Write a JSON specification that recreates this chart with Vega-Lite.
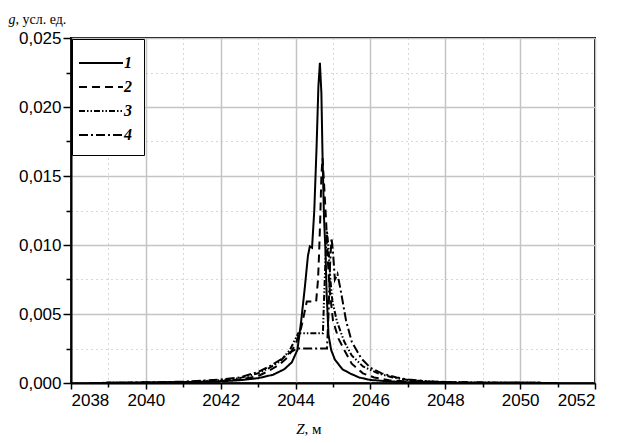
{
  "$schema": "https://vega.github.io/schema/vega-lite/v6.json",
  "autosize": {"type": "none"},
  "padding": {"left": 71, "top": 38, "right": 22, "bottom": 60},
  "width": 524,
  "height": 345,
  "background": "white",
  "config": {
    "view": {"stroke": "black", "strokeWidth": 2},
    "axis": {"labelFont": "Liberation Sans", "labelFontSize": 17, "labelColor": "black", "titleColor": "black"}
  },
  "datasets": {
    "curves": [
      {"z": 2038.5, "g": 0, "curve": "1"},
      {"z": 2039.5, "g": 0.00002, "curve": "1"},
      {"z": 2040.5, "g": 0.00004, "curve": "1"},
      {"z": 2041.5, "g": 0.00008, "curve": "1"},
      {"z": 2042, "g": 0.00012, "curve": "1"},
      {"z": 2042.5, "g": 0.0002, "curve": "1"},
      {"z": 2043, "g": 0.00035, "curve": "1"},
      {"z": 2043.4, "g": 0.0006, "curve": "1"},
      {"z": 2043.7, "g": 0.001, "curve": "1"},
      {"z": 2043.9, "g": 0.0015, "curve": "1"},
      {"z": 2044.05, "g": 0.0024, "curve": "1"},
      {"z": 2044.15, "g": 0.0045, "curve": "1"},
      {"z": 2044.25, "g": 0.007, "curve": "1"},
      {"z": 2044.33, "g": 0.0092, "curve": "1"},
      {"z": 2044.38, "g": 0.0099, "curve": "1"},
      {"z": 2044.44, "g": 0.0098, "curve": "1"},
      {"z": 2044.5, "g": 0.0125, "curve": "1"},
      {"z": 2044.56, "g": 0.017, "curve": "1"},
      {"z": 2044.61, "g": 0.0215, "curve": "1"},
      {"z": 2044.65, "g": 0.0232, "curve": "1"},
      {"z": 2044.69, "g": 0.021, "curve": "1"},
      {"z": 2044.72, "g": 0.0165, "curve": "1"},
      {"z": 2044.76, "g": 0.012, "curve": "1"},
      {"z": 2044.8, "g": 0.0095, "curve": "1"},
      {"z": 2044.83, "g": 0.0065, "curve": "1"},
      {"z": 2044.88, "g": 0.0035, "curve": "1"},
      {"z": 2044.95, "g": 0.0024, "curve": "1"},
      {"z": 2045.05, "g": 0.0017, "curve": "1"},
      {"z": 2045.25, "g": 0.001, "curve": "1"},
      {"z": 2045.45, "g": 0.0007, "curve": "1"},
      {"z": 2045.7, "g": 0.0004, "curve": "1"},
      {"z": 2046, "g": 0.00022, "curve": "1"},
      {"z": 2046.5, "g": 0.00012, "curve": "1"},
      {"z": 2047, "g": 0.00006, "curve": "1"},
      {"z": 2048, "g": 0.00003, "curve": "1"},
      {"z": 2049, "g": 0.00002, "curve": "1"},
      {"z": 2050.5, "g": 0.00001, "curve": "1"},
      {"z": 2051, "g": 0, "curve": "1"},

      {"z": 2038.5, "g": 0, "curve": "2"},
      {"z": 2040, "g": 0.00003, "curve": "2"},
      {"z": 2041, "g": 0.00006, "curve": "2"},
      {"z": 2042, "g": 0.00015, "curve": "2"},
      {"z": 2042.5, "g": 0.00025, "curve": "2"},
      {"z": 2043, "g": 0.0005, "curve": "2"},
      {"z": 2043.3, "g": 0.0009, "curve": "2"},
      {"z": 2043.6, "g": 0.0014, "curve": "2"},
      {"z": 2043.8, "g": 0.0019, "curve": "2"},
      {"z": 2044, "g": 0.0028, "curve": "2"},
      {"z": 2044.15, "g": 0.004, "curve": "2"},
      {"z": 2044.3, "g": 0.0059, "curve": "2"},
      {"z": 2044.55, "g": 0.0059, "curve": "2"},
      {"z": 2044.6, "g": 0.0075, "curve": "2"},
      {"z": 2044.63, "g": 0.0095, "curve": "2"},
      {"z": 2044.66, "g": 0.012, "curve": "2"},
      {"z": 2044.69, "g": 0.015, "curve": "2"},
      {"z": 2044.72, "g": 0.0163, "curve": "2"},
      {"z": 2044.76, "g": 0.0145, "curve": "2"},
      {"z": 2044.82, "g": 0.0115, "curve": "2"},
      {"z": 2044.87, "g": 0.0085, "curve": "2"},
      {"z": 2044.92, "g": 0.0065, "curve": "2"},
      {"z": 2045, "g": 0.0045, "curve": "2"},
      {"z": 2045.15, "g": 0.0032, "curve": "2"},
      {"z": 2045.3, "g": 0.0024, "curve": "2"},
      {"z": 2045.5, "g": 0.0014, "curve": "2"},
      {"z": 2045.8, "g": 0.0007, "curve": "2"},
      {"z": 2046.1, "g": 0.0004, "curve": "2"},
      {"z": 2046.5, "g": 0.0002, "curve": "2"},
      {"z": 2047, "g": 0.00012, "curve": "2"},
      {"z": 2048, "g": 0.00005, "curve": "2"},
      {"z": 2049, "g": 0.00002, "curve": "2"},
      {"z": 2050, "g": 0.00001, "curve": "2"},
      {"z": 2051, "g": 0, "curve": "2"},

      {"z": 2038.5, "g": 0, "curve": "3"},
      {"z": 2040, "g": 0.00003, "curve": "3"},
      {"z": 2041, "g": 0.00007, "curve": "3"},
      {"z": 2042, "g": 0.0002, "curve": "3"},
      {"z": 2042.5, "g": 0.00035, "curve": "3"},
      {"z": 2043, "g": 0.0007, "curve": "3"},
      {"z": 2043.3, "g": 0.0011, "curve": "3"},
      {"z": 2043.6, "g": 0.0016, "curve": "3"},
      {"z": 2043.85, "g": 0.0024, "curve": "3"},
      {"z": 2044.07, "g": 0.0036, "curve": "3"},
      {"z": 2044.73, "g": 0.0036, "curve": "3"},
      {"z": 2044.76, "g": 0.006, "curve": "3"},
      {"z": 2044.8, "g": 0.009, "curve": "3"},
      {"z": 2044.84, "g": 0.011, "curve": "3"},
      {"z": 2044.88, "g": 0.0098, "curve": "3"},
      {"z": 2044.93, "g": 0.0075, "curve": "3"},
      {"z": 2044.98, "g": 0.006, "curve": "3"},
      {"z": 2045.1, "g": 0.0045, "curve": "3"},
      {"z": 2045.3, "g": 0.003, "curve": "3"},
      {"z": 2045.5, "g": 0.002, "curve": "3"},
      {"z": 2045.8, "g": 0.0012, "curve": "3"},
      {"z": 2046.2, "g": 0.0007, "curve": "3"},
      {"z": 2046.6, "g": 0.0004, "curve": "3"},
      {"z": 2047, "g": 0.00022, "curve": "3"},
      {"z": 2047.5, "g": 0.00012, "curve": "3"},
      {"z": 2048, "g": 0.00006, "curve": "3"},
      {"z": 2049, "g": 0.00003, "curve": "3"},
      {"z": 2050.5, "g": 0.00001, "curve": "3"},
      {"z": 2051, "g": 0, "curve": "3"},

      {"z": 2038.5, "g": 0, "curve": "4"},
      {"z": 2040, "g": 0.00004, "curve": "4"},
      {"z": 2041, "g": 0.0001, "curve": "4"},
      {"z": 2042, "g": 0.00025, "curve": "4"},
      {"z": 2042.5, "g": 0.0004, "curve": "4"},
      {"z": 2043, "g": 0.0008, "curve": "4"},
      {"z": 2043.3, "g": 0.0012, "curve": "4"},
      {"z": 2043.6, "g": 0.0017, "curve": "4"},
      {"z": 2043.85, "g": 0.0022, "curve": "4"},
      {"z": 2044.04, "g": 0.0025, "curve": "4"},
      {"z": 2044.84, "g": 0.0025, "curve": "4"},
      {"z": 2044.88, "g": 0.005, "curve": "4"},
      {"z": 2044.92, "g": 0.0085, "curve": "4"},
      {"z": 2044.96, "g": 0.0105, "curve": "4"},
      {"z": 2045, "g": 0.0095, "curve": "4"},
      {"z": 2045.05, "g": 0.0075, "curve": "4"},
      {"z": 2045.12, "g": 0.0079, "curve": "4"},
      {"z": 2045.2, "g": 0.0068, "curve": "4"},
      {"z": 2045.35, "g": 0.0045, "curve": "4"},
      {"z": 2045.5, "g": 0.003, "curve": "4"},
      {"z": 2045.75, "g": 0.0018, "curve": "4"},
      {"z": 2046, "g": 0.0011, "curve": "4"},
      {"z": 2046.3, "g": 0.0007, "curve": "4"},
      {"z": 2046.7, "g": 0.0004, "curve": "4"},
      {"z": 2047, "g": 0.00025, "curve": "4"},
      {"z": 2047.5, "g": 0.00013, "curve": "4"},
      {"z": 2048, "g": 0.00007, "curve": "4"},
      {"z": 2049, "g": 0.00003, "curve": "4"},
      {"z": 2050.5, "g": 0.00001, "curve": "4"},
      {"z": 2051, "g": 0, "curve": "4"}
    ]
  },
  "data": {"name": "curves"},
  "layer": [
    {
      "mark": {"type": "line", "color": "black", "strokeCap": "butt", "strokeJoin": "miter"},
      "encoding": {
        "x": {
          "field": "z", "type": "quantitative",
          "scale": {"domain": [2038, 2052], "nice": false, "zero": false},
          "axis": {
            "orient": "bottom",
            "values": [2038, 2039, 2040, 2041, 2042, 2043, 2044, 2045, 2046, 2047, 2048, 2049, 2050, 2051, 2052],
            "labelExpr": "datum.value % 2 == 0 ? format(datum.value, 'd') : ''",
            "domainColor": "black", "domainWidth": 2,
            "tickColor": "black", "tickWidth": 1.5,
            "tickSize": {"condition": {"test": "datum.value % 2 == 0", "value": 6}, "value": 4},
            "labelPadding": 3,
            "grid": true,
            "gridColor": {"condition": {"test": "datum.value % 2 == 0", "value": "#c4c4c4"}, "value": "#b0b0b0"},
            "gridWidth": {"condition": {"test": "datum.value % 2 == 0", "value": 1.5}, "value": 1},
            "gridDash": {"condition": {"test": "datum.value % 2 == 0", "value": []}, "value": [1, 4]},
            "title": ", м",
            "titleFont": "Liberation Serif", "titleFontSize": 15, "titleFontWeight": "normal",
            "titleAlign": "left", "titleBaseline": "alphabetic",
            "titleX": 233, "titleY": 50
          }
        },
        "y": {
          "field": "g", "type": "quantitative",
          "scale": {"domain": [0, 0.025], "nice": false},
          "axis": {
            "orient": "left",
            "values": [0, 0.0025, 0.005, 0.0075, 0.01, 0.0125, 0.015, 0.0175, 0.02, 0.0225, 0.025],
            "labelExpr": "round(datum.value * 10000) % 50 == 0 ? replace(format(datum.value, '.3f'), '.', ',') : ''",
            "domainColor": "black", "domainWidth": 2,
            "tickColor": "black", "tickWidth": 1.5,
            "tickSize": {"condition": {"test": "round(datum.value * 10000) % 50 == 0", "value": 8}, "value": 5},
            "labelPadding": 2,
            "grid": true,
            "gridColor": {"condition": {"test": "round(datum.value * 10000) % 50 == 0", "value": "#c4c4c4"}, "value": "#b0b0b0"},
            "gridWidth": {"condition": {"test": "round(datum.value * 10000) % 50 == 0", "value": 1.5}, "value": 1},
            "gridDash": {"condition": {"test": "round(datum.value * 10000) % 50 == 0", "value": []}, "value": [1, 4]},
            "title": ", усл. ед.",
            "titleFont": "Liberation Serif", "titleFontSize": 14, "titleFontWeight": "normal",
            "titleAngle": 0, "titleAlign": "left", "titleBaseline": "alphabetic",
            "titleX": -56, "titleY": -15
          }
        },
        "strokeDash": {
          "field": "curve", "type": "nominal",
          "scale": {"domain": ["1", "2", "3", "4"], "range": [[1, 0], [8, 5], [6, 2, 1.5, 2, 1.5, 2], [9, 3, 2, 3]]},
          "legend": {
            "title": null,
            "orient": "top-left",
            "offset": 1,
            "symbolType": "M-1,0H3",
            "symbolSize": 484,
            "symbolOffset": -6,
            "symbolStrokeColor": "black",
            "labelFont": "Liberation Serif", "labelFontSize": 16, "labelFontStyle": "italic", "labelFontWeight": "bold",
            "labelColor": "black", "labelOffset": 22,
            "rowPadding": 4,
            "padding": 12,
            "strokeColor": "black",
            "fillColor": "white"
          }
        },
        "strokeWidth": {
          "field": "curve", "type": "nominal",
          "scale": {"domain": ["1", "2", "3", "4"], "range": [2, 2, 1, 2]},
          "legend": null
        }
      }
    },
    {
      "mark": {"type": "point", "opacity": 0},
      "encoding": {
        "x": {
          "field": "z", "type": "quantitative",
          "scale": {"domain": [2038, 2052], "nice": false, "zero": false},
          "axis": {
            "orient": "top", "labels": false, "ticks": false, "domain": false, "grid": false,
            "title": "Z",
            "titleFont": "Liberation Serif", "titleFontSize": 15, "titleFontStyle": "italic", "titleFontWeight": "normal",
            "titleAlign": "right", "titleBaseline": "alphabetic",
            "titleX": 233, "titleY": 395
          }
        },
        "y": {
          "field": "g", "type": "quantitative",
          "scale": {"domain": [0, 0.025], "nice": false},
          "axis": {
            "orient": "right", "labels": false, "ticks": false, "domain": false, "grid": false,
            "title": "g",
            "titleFont": "Liberation Serif", "titleFontSize": 14, "titleFontStyle": "italic", "titleFontWeight": "normal",
            "titleAngle": 0, "titleAlign": "right", "titleBaseline": "alphabetic",
            "titleX": -580, "titleY": -15
          }
        }
      }
    }
  ],
  "resolve": {"axis": {"x": "independent", "y": "independent"}}
}
